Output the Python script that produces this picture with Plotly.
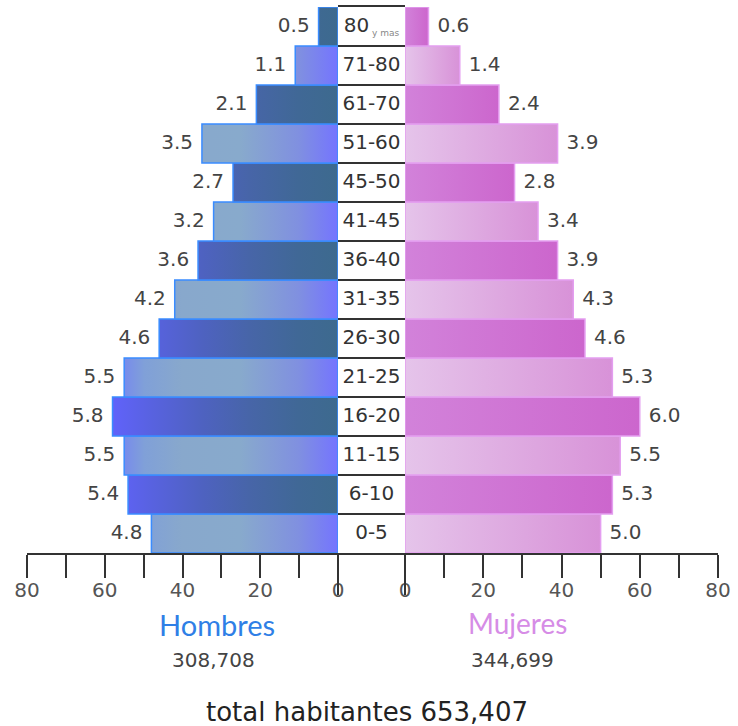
import plotly.graph_objects as go

# Age groups, youngest at the bottom
ages = ["0-5", "6-10", "11-15", "16-20", "21-25", "26-30", "31-35",
        "36-40", "41-45", "45-50", "51-60", "61-70", "71-80", "80"]
hombres = [4.8, 5.4, 5.5, 5.8, 5.5, 4.6, 4.2, 3.6, 3.2, 2.7, 3.5, 2.1, 1.1, 0.5]
mujeres = [5.0, 5.3, 5.5, 6.0, 5.3, 4.6, 4.3, 3.9, 3.4, 2.8, 3.9, 2.4, 1.4, 0.6]
total_hombres = "308,708"
total_mujeres = "344,699"
total = "653,407"
major_ticks = [0, 20, 40, 60, 80]
minor_ticks = [10, 30, 50, 70]

SCALE = 10  # bar length on the axis = percentage x 10

W, H = 738, 726
def px_x(p): return p / W
def px_y(p): return 1 - p / H

y_dom = [px_y(553), px_y(7)]
left_dom = [px_x(27), px_x(338)]
mid_dom = [px_x(338), px_x(405)]
right_dom = [px_x(405), px_x(718)]

# gradient colours
male_dark = [[0, "#3d6a8e"], [0.17, "#406896"], [0.38, "#4765a8"],
             [0.58, "#4e62c0"], [0.8, "#5862e0"], [1, "#6262ff"]]
male_light = [[0, "#7474ff"], [0.17, "#8090e0"], [0.42, "#88aacc"],
              [0.67, "#88a8cc"], [0.83, "#80a0d8"], [1, "#7078ff"]]
fem_dark = [[0, "#d282da"], [1, "#cc66cd"]]
fem_light = [[0, "#e5c4ea"], [1, "#d892d8"]]

TXT = "#444444"
FONT = "DejaVu Sans"

fig = go.Figure()

n = len(ages)
for i in range(n):
    dark = (i % 2 == 1)
    y0, y1 = i - 0.5, i + 0.5
    vm = hombres[i] * SCALE
    fig.add_trace(go.Scatter(
        x=[0, vm, vm, 0, 0], y=[y0, y0, y1, y1, y0],
        mode="lines", fill="toself",
        line=dict(color="#3a8cff", width=1.5),
        fillgradient=dict(type="horizontal",
                          colorscale=male_dark if dark else male_light,
                          start=0, stop=60),
        xaxis="x", yaxis="y", hoverinfo="skip", showlegend=False))
    vf = mujeres[i] * SCALE
    fig.add_trace(go.Scatter(
        x=[0, vf, vf, 0, 0], y=[y0, y0, y1, y1, y0],
        mode="lines", fill="toself",
        line=dict(color="#e49ef0", width=1.5),
        fillgradient=dict(type="horizontal",
                          colorscale=fem_dark if dark else fem_light,
                          start=0, stop=vf),
        xaxis="x2", yaxis="y2", hoverinfo="skip", showlegend=False))

rows = list(range(n))
PAD = 2.3

# value labels
fig.add_trace(go.Scatter(
    x=[v * SCALE + PAD for v in hombres], y=rows, mode="text",
    text=[f"{v:.1f}" for v in hombres], textposition="middle left",
    textfont=dict(family=FONT, size=20, color=TXT),
    xaxis="x", yaxis="y", hoverinfo="skip", showlegend=False, cliponaxis=False))
fig.add_trace(go.Scatter(
    x=[v * SCALE + PAD for v in mujeres], y=rows, mode="text",
    text=[f"{v:.1f}" for v in mujeres], textposition="middle right",
    textfont=dict(family=FONT, size=20, color=TXT),
    xaxis="x2", yaxis="y2", hoverinfo="skip", showlegend=False, cliponaxis=False))

# age group labels in the centre column
age_text = list(ages)
age_text[-1] = ages[-1] + "<sub><span style='font-size:9px;color:#888888'> y mas</span></sub>"
fig.add_trace(go.Scatter(
    x=[0.5] * n, y=rows, mode="text", text=age_text, textposition="middle center",
    textfont=dict(family=FONT, size=20, color="#333333"),
    xaxis="x3", yaxis="y3", hoverinfo="skip", showlegend=False, cliponaxis=False))

yrange = [-0.5, n - 0.5]
tick_common = dict(tickmode="array", tickvals=major_ticks,
                   ticks="outside", ticklen=23, tickwidth=2, tickcolor="#333333",
                   ticklabelstandoff=-5,
                   minor=dict(tickmode="array", tickvals=minor_ticks, ticks="outside",
                              ticklen=23, tickwidth=2, tickcolor="#333333",
                              showgrid=False),
                   showline=True, linecolor="#333333", linewidth=2,
                   showgrid=False, zeroline=False, fixedrange=True, automargin=False,
                   tickfont=dict(family=FONT, size=20, color="#555555"))

fig.update_layout(
    width=W, height=H,
    margin=dict(l=0, r=0, t=0, b=0),
    paper_bgcolor="white", plot_bgcolor="rgba(0,0,0,0)",
    xaxis=dict(domain=left_dom, range=[80, 0], anchor="y", **tick_common),
    xaxis2=dict(domain=right_dom, range=[0, 80], anchor="y2", **tick_common),
    xaxis3=dict(domain=mid_dom, range=[0, 1], anchor="y3", showline=True,
                mirror=True, linecolor="#333333", linewidth=2,
                tickmode="array", tickvals=[0, 1], ticks="outside", ticklen=40,
                tickwidth=2, tickcolor="#333333", showticklabels=False,
                showgrid=False, zeroline=False, automargin=False),
    yaxis=dict(domain=y_dom, range=yrange, anchor="x", visible=False),
    yaxis2=dict(domain=y_dom, range=yrange, anchor="x2", visible=False),
    yaxis3=dict(domain=y_dom, range=yrange, anchor="x3", showticklabels=False,
                ticks="", zeroline=False, showgrid=True, gridcolor="#333333",
                gridwidth=1.5, tickmode="array", automargin=False,
                tickvals=[i + 0.5 for i in range(n - 1)]),
    showlegend=False,
)

annotations = [
    dict(text="Hombres", x=px_x(217), y=px_y(624),
         font=dict(family="Lato", size=29, color="#2f7fe6")),
    dict(text="Mujeres", x=px_x(517), y=px_y(623),
         font=dict(family="Lato", size=28, color="#d68ce6")),
    dict(text=total_hombres, x=px_x(213), y=px_y(660),
         font=dict(family=FONT, size=20, color=TXT)),
    dict(text=total_mujeres, x=px_x(512), y=px_y(660),
         font=dict(family=FONT, size=20, color=TXT)),
    dict(text="total habitantes " + total, x=px_x(367), y=px_y(712),
         font=dict(family=FONT, size=26, color="#222222")),
]
for a in annotations:
    fig.add_annotation(xref="paper", yref="paper", showarrow=False,
                       xanchor="center", yanchor="middle", **a)

fig.write_html("out.html")
